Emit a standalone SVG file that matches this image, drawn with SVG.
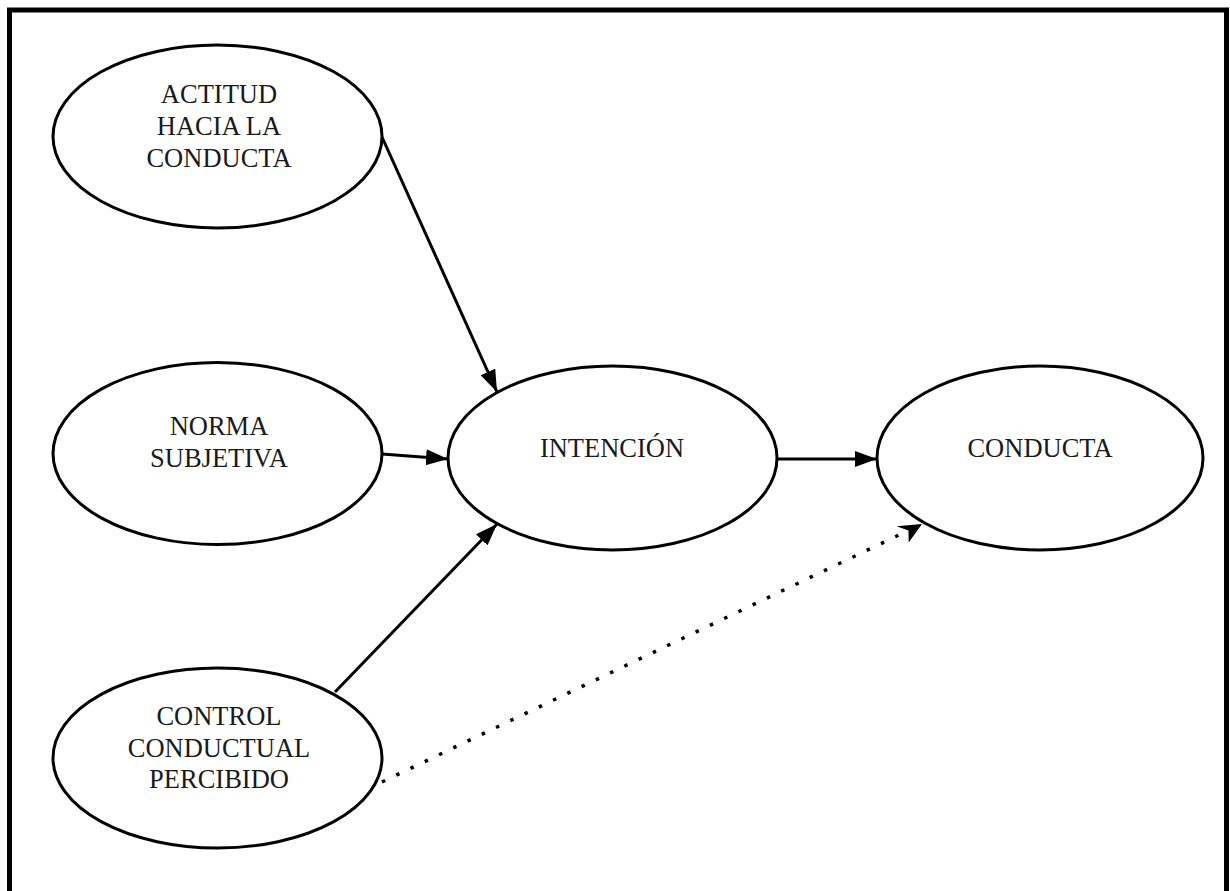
<svg xmlns="http://www.w3.org/2000/svg" width="1230" height="891" viewBox="0 0 1230 891">
  <style>
    .node { fill: #ffffff; stroke: #000000; stroke-width: 3; }
    .lbl { font-family: "Liberation Serif", "DejaVu Serif", serif; font-size: 26.5px; fill: #1a1a1a; text-anchor: middle; }
    .edge { fill: none; stroke: #000000; stroke-width: 3; }
    .dotted { fill: none; stroke: #000000; stroke-width: 3.5; stroke-dasharray: 3.5 12.3; }
  </style>
  <defs>
    <marker id="arrow" markerUnits="userSpaceOnUse" markerWidth="24" markerHeight="18" refX="22" refY="8" orient="auto">
      <path d="M0,0 L22,8 L0,16 Z" fill="#000000"/>
    </marker>
    <marker id="stealth" markerUnits="userSpaceOnUse" markerWidth="26" markerHeight="24" refX="24" refY="11" orient="auto">
      <path d="M0,2 L24,11 L4,22 L9,11 Z" fill="#000000"/>
    </marker>
  </defs>
  <rect x="0" y="0" width="1230" height="891" fill="#ffffff"/>
  <rect x="9.5" y="10" width="1217" height="900" fill="#ffffff" stroke="#000000" stroke-width="5"/>

  <g id="connectors">
    <line class="edge" x1="382" y1="137" x2="497" y2="392" marker-end="url(#arrow)"/>
    <line class="edge" x1="382" y1="454" x2="448" y2="459" marker-end="url(#arrow)"/>
    <line class="edge" x1="335" y1="692" x2="497" y2="524" marker-end="url(#arrow)"/>
    <line class="edge" x1="777" y1="459" x2="877" y2="459" marker-end="url(#arrow)"/>
    <line class="dotted" x1="382" y1="782" x2="922" y2="524" marker-end="url(#stealth)"/>
  </g>

  <g id="actitud">
    <ellipse class="node" cx="217.5" cy="136.5" rx="164.5" ry="91.5"/>
    <text class="lbl" x="219" y="103">ACTITUD</text>
    <text class="lbl" x="219" y="135">HACIA LA</text>
    <text class="lbl" x="219" y="167">CONDUCTA</text>
  </g>
  <g id="norma">
    <ellipse class="node" cx="217.5" cy="453.5" rx="164.5" ry="91"/>
    <text class="lbl" x="219" y="435">NORMA</text>
    <text class="lbl" x="219" y="467">SUBJETIVA</text>
  </g>
  <g id="control">
    <ellipse class="node" cx="217.5" cy="758" rx="164.5" ry="90"/>
    <text class="lbl" x="219" y="725">CONTROL</text>
    <text class="lbl" x="219" y="757">CONDUCTUAL</text>
    <text class="lbl" x="219" y="788">PERCIBIDO</text>
  </g>
  <g id="intencion">
    <ellipse class="node" cx="612.5" cy="458" rx="164.5" ry="92"/>
    <text class="lbl" x="612" y="457">INTENCIÓN</text>
  </g>
  <g id="conducta">
    <ellipse class="node" cx="1040" cy="458" rx="163" ry="92"/>
    <text class="lbl" x="1040" y="457">CONDUCTA</text>
  </g>
</svg>
